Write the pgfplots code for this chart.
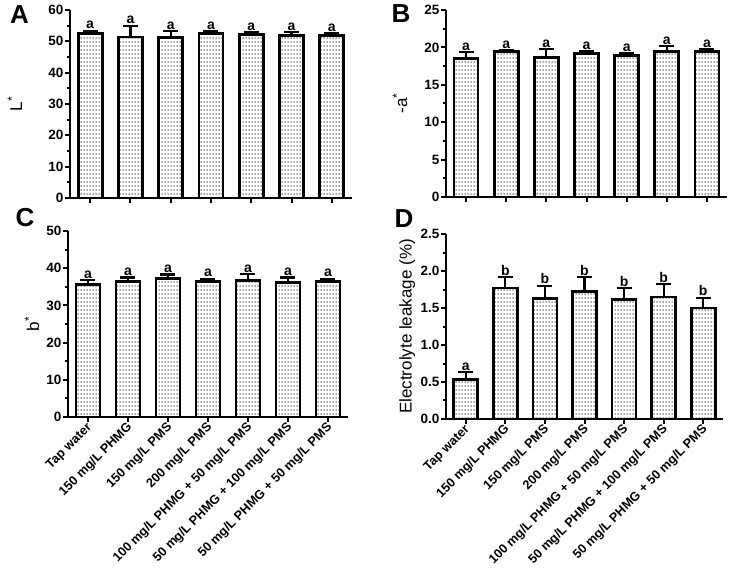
\documentclass[border=0pt]{standalone}
\usepackage{fontspec}
\setmainfont{Liberation Sans}
\usepackage{pgfplots}
\usepackage{pgfplotstable}
\pgfplotsset{compat=1.18}
\usetikzlibrary{patterns}

\pgfdeclarepatternformonly{mydots}{\pgfpointorigin}{\pgfqpoint{3.4pt}{4pt}}{\pgfqpoint{3.4pt}{4pt}}{%
  \pgfpathrectangle{\pgfqpoint{0.6pt}{0.6pt}}{\pgfqpoint{1.4pt}{1.3pt}}\pgfusepath{fill}}

\pgfplotstableread{
x y e lab
0 52.5 0.9 a
1 51.4 3.6 a
2 51.1 2.1 a
3 52.4 0.8 a
4 52.3 0.6 a
5 51.8 1.1 a
6 51.8 0.8 a
}\dataA
\pgfplotstableread{
x y e lab
0 18.5 0.90 a
1 19.4 0.20 a
2 18.6 1.15 a
3 19.2 0.30 a
4 18.9 0.30 a
5 19.4 0.80 a
6 19.4 0.40 a
}\dataB
\pgfplotstableread{
x y e lab
0 35.6 1.2 a
1 36.5 1.0 a
2 37.3 1.0 a
3 36.4 0.8 a
4 36.8 1.6 a
5 36.1 1.4 a
6 36.4 0.8 a
}\dataC
\pgfplotstableread{
x y e lab
0 0.53 0.10 a
1 1.77 0.15 b
2 1.63 0.17 b
3 1.72 0.20 b
4 1.61 0.16 b
5 1.65 0.17 b
6 1.50 0.14 b
}\dataD

\pgfplotsset{
  panel/.style={
    scale only axis,
    axis lines=left,
    axis line style={line width=2.2pt,-},
    xmin=-0.5, xmax=6.5, ymin=0,
    enlargelimits=false,
    clip=false,
    xtick={0,...,6},
    tick align=outside,
    major tick length=5pt,
    minor tick length=3pt,
    minor y tick num=1,
    every tick/.style={line width=2pt, black},
    yticklabel style={font=\fontsize{13.5}{15}\selectfont\bfseries, inner sep=1.5pt},
    /pgf/number format/assume math mode=true,
    every axis y label/.style={rotate=90, anchor=center, font=\fontsize{17}{20}\selectfont},
  },
  bars/.style={
    ybar, bar width=24pt, draw=black, line width=2.8pt,
    pattern=mydots, pattern color=black!80,
    error bars/.cd, y dir=plus, y explicit,
    error bar style={line width=2.2pt, black},
    error mark options={rotate=90, mark size=7.5pt, line width=2.2pt, black},
  },
  letters/.style={
    draw=none, mark=none, nodes near coords, point meta=explicit symbolic,
    nodes near coords style={anchor=south, font=\fontsize{14}{16}\selectfont\bfseries, inner sep=1.5pt},
  },
  catlabels/.style={
    xticklabels={Tap water,150 mg/L PHMG,150 mg/L PMS,200 mg/L PMS,100 mg/L PHMG + 50 mg/L PMS,50 mg/L PHMG + 100 mg/L PMS,50 mg/L PHMG + 50 mg/L PMS},
    x tick label style={rotate=45, anchor=east, inner sep=2pt, yshift=-4pt, xshift=1pt, font=\fontsize{12.7}{14}\selectfont\bfseries},
  },
}

\begin{document}
\begin{tikzpicture}[x=1pt,y=1pt]
\useasboundingbox (0,0) rectangle (732,571);

% A
\begin{axis}[panel, at={(70pt,373pt)}, anchor=south west, width=282pt, height=188pt,
  ymax=60, ytick={0,10,...,60}, xticklabels={},
  ylabel={L\textsuperscript{*}}, ylabel style={at={(axis description cs:-0.195,0.5)}}]
\addplot[bars] table[x=x, y=y, y error=e] {\dataA};
\addplot[letters] table[x=x, y expr=\thisrow{y}+\thisrow{e}, meta=lab] {\dataA};
\end{axis}

% B
\begin{axis}[panel, at={(446pt,374pt)}, anchor=south west, width=281pt, height=187pt,
  ymax=25, ytick={0,5,...,25}, xticklabels={},
  ylabel={-a\textsuperscript{*}}, ylabel style={at={(axis description cs:-0.164,0.5)}}]
\addplot[bars] table[x=x, y=y, y error=e] {\dataB};
\addplot[letters] table[x=x, y expr=\thisrow{y}+\thisrow{e}, meta=lab] {\dataB};
\end{axis}

% C
\begin{axis}[panel, catlabels, at={(68pt,154pt)}, anchor=south west, width=280pt, height=186pt,
  ymax=50, ytick={0,10,...,50},
  ylabel={b\textsuperscript{*}}, ylabel style={at={(axis description cs:-0.129,0.5)}}]
\addplot[bars] table[x=x, y=y, y error=e] {\dataC};
\addplot[letters] table[x=x, y expr=\thisrow{y}+\thisrow{e}, meta=lab] {\dataC};
\end{axis}

% D
\begin{axis}[panel, catlabels, at={(446pt,152pt)}, anchor=south west, width=277pt, height=185pt,
  ymax=2.5, ytick={0,0.5,...,2.5},
  yticklabel style={/pgf/number format/fixed, /pgf/number format/fixed zerofill, /pgf/number format/precision=1},
  ylabel={Electrolyte leakage (\%)}, ylabel style={at={(axis description cs:-0.14,0.5)}}]
\addplot[bars] table[x=x, y=y, y error=e] {\dataD};
\addplot[letters] table[x=x, y expr=\thisrow{y}+\thisrow{e}, meta=lab] {\dataD};
\end{axis}

\node[font=\fontsize{26}{28}\selectfont\bfseries] at (19.5,556) {A};
\node[font=\fontsize{26}{28}\selectfont\bfseries] at (401,557) {B};
\node[font=\fontsize{26}{28}\selectfont\bfseries] at (25,353.5) {C};
\node[font=\fontsize{26}{28}\selectfont\bfseries] at (404,352) {D};
\end{tikzpicture}
\end{document}
